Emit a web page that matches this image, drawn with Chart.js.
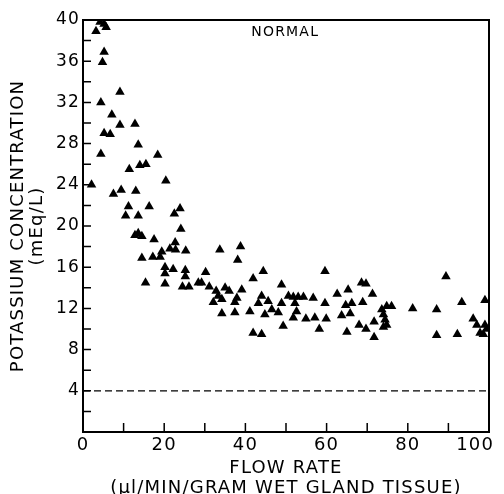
<!DOCTYPE html>
<html>
<head>
<meta charset="utf-8">
<script src="https://cdn.jsdelivr.net/npm/chart.js@4/dist/chart.umd.min.js"></script>
<style>
  html, body { margin: 0; padding: 0; background: #fff; }
  #wrap { width: 504px; height: 494px; }
</style>
</head>
<body>
<div id="wrap"><canvas id="myChart"></canvas></div>
<script>
// flow rate (ul/min/gram) and potassium concentration (mEq/L)
const flowRate = [
  3.2, 4.2, 5.2, 5.7, 5.2, 4.8, 9.1, 4.4, 7.1, 9.1, 12.8, 5.2, 6.7, 13.6, 4.4, 18.4,
  11.4, 14.0, 15.5, 2.1, 20.4, 7.5, 9.4, 13.0, 11.2, 10.5, 13.6, 16.3, 23.9, 22.5,
  24.1, 12.8, 13.6, 14.5, 17.5, 22.7, 21.4, 22.8, 19.4, 25.3, 14.5, 17.2, 19.0, 20.2,
  20.2, 22.2, 25.2, 25.2, 15.4, 20.2, 24.5, 26.1, 28.4, 29.2, 30.2, 31.1, 32.8, 32.1,
  33.7, 38.8, 38.1, 44.4, 41.9, 59.6, 48.9, 35.0, 36.0, 39.1, 33.3, 34.2, 37.9, 37.4,
  44.0, 45.6, 43.2, 50.6, 51.8, 53.0, 54.3, 56.7, 48.9, 52.2, 59.6, 62.6, 65.3, 41.1,
  46.5, 44.8, 48.1, 52.6, 51.8, 34.2, 37.4, 54.9, 57.1, 59.9, 63.7, 64.7, 49.3, 58.2,
  41.9, 44.0, 65.0, 89.4, 68.6, 69.7, 71.3, 66.2, 68.9, 65.8, 73.6, 74.8, 76.0, 74.0,
  74.4, 74.8, 74.0, 81.2, 87.1, 93.3, 99.0, 96.1, 97.0, 99.0, 99.4, 97.8, 98.6, 68.0,
  69.7, 71.7, 71.7, 87.1, 92.2
];
const potassium = [
  38.9, 39.8, 39.6, 39.3, 36.9, 35.9, 33.0, 32.0, 30.8, 29.8, 29.9, 29.0, 28.9, 27.9, 27.0, 26.9,
  25.5, 25.9, 26.0, 24.0, 24.4, 23.1, 23.5, 23.4, 21.9, 21.0, 21.0, 21.9, 21.7, 21.2,
  19.7, 19.1, 19.3, 19.0, 18.7, 18.4, 17.8, 17.7, 17.5, 17.6, 16.9, 17.0, 17.0, 16.0,
  15.4, 15.8, 15.7, 15.1, 14.5, 14.4, 14.1, 14.1, 14.5, 14.5, 15.5, 14.1, 13.7, 12.6,
  17.7, 18.0, 16.7, 15.6, 14.9, 15.6, 14.3, 14.0, 13.7, 13.8, 13.2, 12.9, 13.0, 12.6,
  13.2, 12.7, 12.5, 13.2, 13.1, 13.1, 13.1, 13.0, 12.5, 12.5, 12.5, 13.4, 13.8, 11.7,
  11.9, 11.4, 11.6, 11.7, 11.1, 11.5, 11.6, 11.0, 11.1, 11.0, 11.3, 12.3, 10.3, 10.0,
  9.6, 9.5, 9.7, 15.1, 14.5, 14.4, 13.4, 12.5, 12.6, 11.5, 11.9, 12.2, 12.2, 11.4,
  10.9, 10.4, 10.2, 12.0, 11.9, 12.6, 12.8, 11.0, 10.4, 10.4, 10.0, 9.6, 9.5, 10.4,
  10.0, 10.7, 9.2, 9.4, 9.5
];
const referenceLevel = 4;       // dashed line
const xRange = [0, 100];
const yRange = [0, 40];
const xLabelStep = 20;
const yLabelStep = 4;

const FONT = "'DejaVu Sans', sans-serif";

// wide lettering like the original typeface
const spacingPlugin = {
  id: 'spacing',
  beforeDraw(chart) { chart.ctx.letterSpacing = '1.2px'; }
};

// frame, inward tick marks and the NORMAL label
const framePlugin = {
  id: 'frame',
  afterDraw(chart) {
    const { ctx, chartArea: a, scales: { x, y } } = chart;
    ctx.save();
    ctx.strokeStyle = '#000';
    ctx.lineWidth = 2;
    ctx.strokeRect(a.left, a.top, a.right - a.left, a.bottom - a.top);
    ctx.lineWidth = 1.5;
    ctx.beginPath();
    for (let v = yRange[0] + 2; v < yRange[1]; v += 2) {
      const py = y.getPixelForValue(v);
      ctx.moveTo(a.left, py);
      ctx.lineTo(a.left + 8, py);
    }
    for (let v = xRange[0] + 10; v < xRange[1]; v += 10) {
      const px = x.getPixelForValue(v);
      ctx.moveTo(px, a.bottom);
      ctx.lineTo(px, a.bottom - 9);
    }
    ctx.stroke();
    ctx.fillStyle = '#000';
    ctx.font = '14px ' + FONT;
    ctx.textAlign = 'center';
    ctx.textBaseline = 'middle';
    ctx.fillText('NORMAL', x.getPixelForValue(49.8), y.getPixelForValue(38.8));
    ctx.restore();
  }
};

const points = flowRate.map((fx, i) => ({ x: fx, y: potassium[i] }));

new Chart(document.getElementById('myChart'), {
  type: 'scatter',
  data: {
    datasets: [{
      data: points,
      pointStyle: 'triangle',
      pointRadius: 5.5,
      backgroundColor: '#000',
      borderColor: '#000',
      borderWidth: 0
    }, {
      type: 'line',
      data: [{ x: xRange[0], y: referenceLevel }, { x: xRange[1], y: referenceLevel }],
      borderColor: '#000',
      borderWidth: 1.3,
      borderDash: [7, 4],
      pointRadius: 0,
      fill: false
    }]
  },
  plugins: [spacingPlugin, framePlugin],
  options: {
    responsive: true,
    maintainAspectRatio: false,
    animation: false,
    events: [],
    layout: { padding: { top: 20, right: 15, left: 0, bottom: 0 } },
    plugins: { legend: { display: false }, tooltip: { enabled: false } },
    scales: {
      x: {
        type: 'linear',
        min: xRange[0],
        max: xRange[1],
        grid: { display: false, drawTicks: false },
        border: { display: false },
        ticks: {
          stepSize: 10,
          autoSkip: false,
          maxRotation: 0,
          padding: 3,
          color: '#000',
          font: { family: FONT, size: 18 },
          // last label is nudged left so it stays inside the page
          callback: v => (v === xRange[1] ? v + '\u00a0\u00a0\u00a0\u00a0' : (v % xLabelStep === 0 ? v : ''))
        },
        title: {
          display: true,
          text: ['FLOW RATE', '(\u00b5l/MIN/GRAM WET GLAND TISSUE)'],
          color: '#000',
          font: { family: FONT, size: 18, lineHeight: 1.11 },
          padding: { top: 0, bottom: -4 }
        },
        afterFit: s => { s.height = 62; s.paddingRight = 0; }
      },
      y: {
        type: 'linear',
        min: yRange[0],
        max: yRange[1],
        grid: { display: false, drawTicks: false },
        border: { display: false },
        ticks: {
          stepSize: 2,
          autoSkip: false,
          padding: 3,
          color: '#000',
          font: { family: FONT, size: 17 },
          callback: v => (v !== 0 && v % yLabelStep === 0 ? v : '')
        },
        title: {
          display: true,
          text: ['POTASSIUM CONCENTRATION', '(mEq/L)'],
          color: '#000',
          font: { family: FONT, size: 18, lineHeight: 1.055 },
          padding: { top: 8.5, bottom: 0 }
        },
        afterFit: s => { s.width = 83; }
      }
    }
  }
});
</script>
</body>
</html>
